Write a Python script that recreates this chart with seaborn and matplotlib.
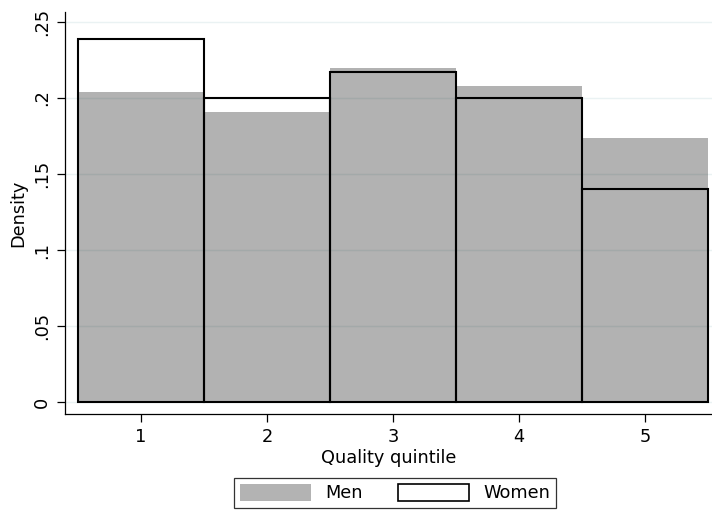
import matplotlib
matplotlib.use("Agg")
import matplotlib.pyplot as plt
from matplotlib.patches import Patch
import seaborn as sns
import pandas as pd

# Share of each sex in each quality quintile (density)
quintiles = [1, 2, 3, 4, 5]
men_density = [0.204, 0.191, 0.220, 0.208, 0.174]
women_density = [0.239, 0.200, 0.217, 0.200, 0.140]
y_ticks = [0, 0.05, 0.10, 0.15, 0.20, 0.25]
y_tick_labels = ["0", ".05", ".1", ".15", ".2", ".25"]

df = pd.DataFrame({"quintile": quintiles, "men": men_density, "women": women_density})

sns.set_theme(style="white")
plt.rcParams["font.family"] = ["DejaVu Sans"]
plt.rcParams["text.color"] = "black"
plt.rcParams["axes.labelcolor"] = "black"
plt.rcParams["xtick.color"] = "black"
plt.rcParams["ytick.color"] = "black"
FS = 12.8

fig = plt.figure(figsize=(7.12, 5.13), dpi=100)
ax = fig.add_axes([65 / 712, 1 - 414 / 513, 1 - 65 / 712, (414 - 12) / 513])

# horizontal grid under the translucent bars
for t in y_ticks:
    ax.axhline(t, color="#eaf2f3", lw=1.0, zorder=0)

sns.histplot(data=df, x="quintile", weights="men", discrete=True, shrink=1.0,
             stat="count", color="black", alpha=0.30, edgecolor="none",
             linewidth=0, ax=ax, zorder=1)
sns.histplot(data=df, x="quintile", weights="women", discrete=True, shrink=1.0,
             stat="count", fill=False, color="black", edgecolor="black",
             linewidth=1.5, element="bars", ax=ax, zorder=2)

ax.set_xlim(0.397, 5.53)
ax.set_ylim(-0.0079, 0.2566)
ax.set_xticks(quintiles)
ax.set_xticklabels([str(q) for q in quintiles], fontsize=FS)
ax.set_yticks(y_ticks)
ax.set_yticklabels(y_tick_labels, fontsize=FS, rotation=90, va="center")
ax.tick_params(axis="both", direction="out", length=6, width=0.9, color="black",
               labelcolor="black", bottom=True, left=True, pad=4)
ax.set_xlabel("Quality quintile", fontsize=FS, labelpad=2)
ax.set_ylabel("Density", fontsize=FS, labelpad=4)

for side in ("top", "right"):
    ax.spines[side].set_visible(False)
for side in ("left", "bottom"):
    ax.spines[side].set_visible(True)
    ax.spines[side].set_color("black")
    ax.spines[side].set_linewidth(0.9)

handles = [Patch(facecolor="#b3b3b3", edgecolor="none"),
           Patch(facecolor="white", edgecolor="black", linewidth=1.2)]
leg = fig.legend(handles, ["Men", "Women"], loc="center",
                 bbox_to_anchor=(395 / 712, 1 - 493 / 513), ncol=2,
                 fontsize=FS, frameon=True, fancybox=False, handlelength=4.0,
                 handleheight=1.1, columnspacing=2.0, handletextpad=0.8,
                 borderpad=0.3)
leg.get_frame().set_edgecolor("black")
leg.get_frame().set_linewidth(0.9)

fig.savefig("out.png", dpi=100, facecolor="white")
